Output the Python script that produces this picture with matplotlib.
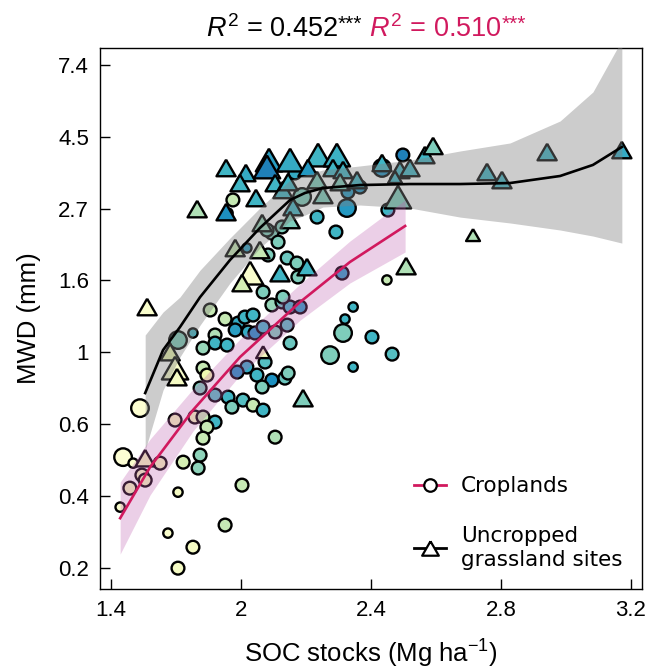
import numpy as np
import matplotlib
matplotlib.use("Agg")
import matplotlib.pyplot as plt
from matplotlib.lines import Line2D
from matplotlib.markers import MarkerStyle

# Croplands: x = SOC axis value, y = ln(MWD), colour value, size class
crop_x = [1.628, 1.637, 1.668, 1.658, 1.695, 1.705, 1.751, 1.689, 1.775, 1.806,
          1.852, 1.806, 1.822, 1.874, 1.868, 1.797, 1.858, 1.883, 1.920, 1.895,
          1.883, 2.003, 1.951, 2.105, 1.806, 1.852, 1.905, 1.951, 1.883, 1.920,
          1.920, 1.957, 1.991, 2.012, 2.037, 1.982, 2.022, 2.043, 2.068, 2.105,
          2.095, 2.126, 2.151, 2.182, 2.142, 2.151, 2.018, 1.988, 2.049, 2.074,
          2.095, 2.135, 2.145, 2.065, 1.883, 1.895, 1.874, 1.960, 1.920, 2.006,
          1.972, 2.037, 2.068, 2.274, 2.314, 2.345, 2.320, 2.345, 2.403, 2.465,
          2.311, 2.449, 2.175, 2.129, 2.068, 1.975, 1.960, 2.188, 2.234, 2.326,
          2.292, 2.366, 2.329, 2.434, 2.498, 2.452, 2.166, 2.018, 2.095, 2.114,
          2.083, 2.142, 2.172, 2.126, 2.080]
crop_y = [-1.078, -0.730, -0.772, -0.946, -0.855, -0.890, -0.772, -0.389, -1.259, -1.503,
          -1.357, -0.974, -0.765, -0.716, -0.806, -0.472, -0.451, -0.451, -0.486, -0.521,
          -0.598, -0.925, -1.203, -0.591, 0.085, 0.134, 0.294, 0.231, 0.029, 0.120,
          0.064, 0.050, 0.203, 0.245, 0.259, 0.155, 0.141, 0.134, 0.175, 0.141,
          0.329, 0.350, 0.315, 0.315, 0.189, 0.064, -0.103, -0.138, -0.159, -0.068,
          -0.194, -0.180, -0.145, -0.242, -0.110, -0.159, -0.249, -0.312, -0.298, -0.333,
          -0.382, -0.368, -0.403, -0.020, 0.134, 0.315, 0.231, -0.103, 0.106, -0.013,
          0.551, 0.503, 0.524, 0.384, 0.419, 1.060, 0.969, 1.081, 0.941, 1.004,
          0.837, 1.150, 1.116, 1.283, 1.373, 0.990, 1.248, 0.726, 0.830, 0.767,
          0.677, 0.656, 0.621, 0.872, 0.851]
crop_c = [0.05, 0.02, 0.05, 0.10, 0.08, 0.10, 0.10, 0.03, 0.05, 0.08,
          0.08, 0.08, 0.25, 0.42, 0.42, 0.10, 0.10, 0.30, 0.60, 0.30,
          0.30, 0.30, 0.30, 0.35, 0.45, 0.60, 0.30, 0.30, 0.40, 0.35,
          0.60, 0.60, 0.65, 0.60, 0.60, 0.70, 0.65, 0.75, 0.60, 0.45,
          0.40, 0.50, 0.60, 0.70, 0.55, 0.50, 0.65, 0.75, 0.60, 0.55,
          0.75, 0.50, 0.45, 0.45, 0.30, 0.15, 0.45, 0.60, 0.55, 0.55,
          0.45, 0.30, 0.60, 0.45, 0.45, 0.60, 0.60, 0.60, 0.60, 0.55,
          0.70, 0.30, 0.45, 0.45, 0.45, 0.30, 0.75, 0.45, 0.60, 0.72,
          0.60, 0.75, 0.72, 0.75, 0.80, 0.60, 0.65, 0.70, 0.45, 0.45,
          0.45, 0.50, 0.45, 0.45, 0.45]
crop_w = [1, 3, 1, 2, 2, 2, 2, 3, 1, 2,
          2, 1, 2, 2, 2, 2, 2, 2, 2, 2,
          2, 2, 2, 2, 3, 1, 2, 2, 2, 2,
          2, 2, 2, 2, 2, 2, 2, 2, 2, 2,
          2, 2, 2, 2, 2, 2, 2, 2, 2, 2,
          2, 2, 2, 2, 2, 2, 2, 2, 2, 2,
          2, 2, 2, 3, 3, 1, 1, 1, 2, 2,
          2, 1, 2, 2, 2, 2, 1, 3, 2, 3,
          2, 2, 2, 3, 2, 2, 2, 1, 2, 2,
          2, 2, 2, 2, 2]

# Uncropped grassland sites
grass_x = [1.711, 1.705, 1.782, 1.797, 1.803, 1.865, 1.954, 2.015, 1.997, 2.046,
           1.954, 2.086, 2.080, 2.151, 2.237, 2.295, 2.206, 2.283, 2.314, 2.105,
           2.129, 2.145, 2.234, 2.305, 2.357, 2.160, 2.252, 2.151, 2.065, 1.982,
           2.058, 2.028, 2.003, 2.120, 2.203, 2.068, 2.191, 2.434, 2.489, 2.520,
           2.474, 2.566, 2.591, 2.483, 2.757, 2.803, 2.942, 3.172, 2.714, 2.508]
grass_y = [0.315, -0.737, 0.001, -0.110, -0.173, 0.997, 1.283, 1.248, 1.178, 1.074,
           0.976, 1.338, 1.290, 1.338, 1.373, 1.373, 1.283, 1.283, 1.269, 1.178,
           1.130, 1.185, 1.199, 1.185, 1.199, 1.011, 1.095, 0.921, 0.900, 0.726,
           0.712, 0.551, 0.482, 0.551, 0.593, 0.001, -0.319, 1.318, 1.269, 1.283,
           1.220, 1.373, 1.436, 1.081, 1.255, 1.199, 1.394, 1.408, 0.816, 0.600]
grass_c = [0.05, 0.10, 0.15, 0.05, 0.08, 0.35, 0.60, 0.65, 0.60, 0.60,
           0.75, 0.70, 0.80, 0.65, 0.60, 0.62, 0.72, 0.60, 0.60, 0.60,
           0.60, 0.60, 0.45, 0.45, 0.60, 0.60, 0.45, 0.45, 0.40, 0.30,
           0.30, 0.05, 0.25, 0.60, 0.60, 0.10, 0.45, 0.60, 0.60, 0.60,
           0.60, 0.60, 0.45, 0.45, 0.60, 0.60, 0.60, 0.65, 0.35, 0.35]
grass_w = [2, 2, 2, 3, 2, 2, 2, 2, 2, 2,
           2, 3, 3, 3, 3, 3, 2, 2, 2, 2,
           2, 2, 2, 2, 2, 2, 2, 2, 2, 2,
           2, 3, 2, 2, 2, 1, 2, 2, 2, 2,
           1, 2, 2, 3, 2, 2, 2, 2, 1, 2]

# fitted curves (ln MWD) with confidence band
crop_fit_x = [1.628, 1.720, 1.852, 1.997, 2.182, 2.335, 2.505]
crop_fit_y = [-1.155, -0.800, -0.403, -0.033, 0.350, 0.628, 0.879]
crop_fit_lo = [-1.405, -0.994, -0.549, -0.159, 0.224, 0.482, 0.698]
crop_fit_hi = [-0.904, -0.605, -0.256, 0.092, 0.475, 0.774, 1.060]

grass_fit_x = [1.705, 1.760, 1.812, 1.874, 1.966, 2.058, 2.151, 2.197, 2.252,
               2.366, 2.520, 2.674, 2.828, 2.982, 3.083, 3.172]
grass_fit_y = [-0.284, 0.015, 0.175, 0.384, 0.642, 0.865, 1.060, 1.109, 1.143,
               1.164, 1.171, 1.171, 1.178, 1.227, 1.304, 1.429]
grass_fit_lo = [-0.681, -0.263, -0.033, 0.189, 0.482, 0.726, 0.914, 0.955, 1.011,
                1.025, 1.004, 0.941, 0.900, 0.851, 0.809, 0.760]
grass_fit_hi = [0.120, 0.280, 0.384, 0.572, 0.795, 1.004, 1.199, 1.234, 1.269,
                1.297, 1.338, 1.401, 1.457, 1.610, 1.812, 2.174]

x_ticks = [1.6, 2.0, 2.4, 2.8, 3.2]
x_tick_labels = ["1.4", "2", "2.4", "2.8", "3.2"]
y_ticks = [-1.5, -1.0, -0.5, 0.0, 0.5, 1.0, 1.5, 2.0]
y_tick_labels = ["0.2", "0.4", "0.6", "1", "1.6", "2.7", "4.5", "7.4"]

PINK = "#d1195e"

plt.rcParams["font.family"] = ["Liberation Sans", "DejaVu Sans"]
plt.rcParams["mathtext.fontset"] = "custom"
plt.rcParams["mathtext.rm"] = "Liberation Sans"
plt.rcParams["mathtext.it"] = "Liberation Sans:italic"

fig = plt.figure(figsize=(6.46, 6.70), dpi=100)
ax = fig.add_axes([100 / 646, 81 / 670, 542 / 646, 541 / 670])

cmap = plt.get_cmap("YlGnBu")
circle_area = {1: 45, 2: 85, 3: 160}
tri_area = {1: 100, 2: 190, 3: 360}

# equilateral triangle marker (closed path)
tri = MarkerStyle([(0, 0.433), (-0.5, -0.433), (0.5, -0.433), (0, 0.433)])

ax.scatter(crop_x, crop_y, c=crop_c, cmap=cmap, vmin=0, vmax=1.2,
           s=[circle_area[w] for w in crop_w], marker="o",
           edgecolors="black", linewidths=1.7, zorder=2)
ax.scatter(grass_x, grass_y, c=grass_c, cmap=cmap, vmin=0, vmax=1.2,
           s=[tri_area[w] for w in grass_w], marker=tri,
           edgecolors="black", linewidths=1.7, zorder=2)

# bands sit on top of the points
ax.fill_between(grass_fit_x, grass_fit_lo, grass_fit_hi, color="#808080",
                alpha=0.4, linewidth=0, zorder=3)
ax.fill_between(crop_fit_x, crop_fit_lo, crop_fit_hi, color="#c060b0",
                alpha=0.3, linewidth=0, zorder=3)
ax.plot(grass_fit_x, grass_fit_y, color="black", lw=1.9, zorder=4)
ax.plot(crop_fit_x, crop_fit_y, color=PINK, lw=1.9, zorder=4)

ax.set_xlim(1.566, 3.234)
ax.set_ylim(-1.648, 2.118)
ax.set_xticks(x_ticks)
ax.set_xticklabels(x_tick_labels)
ax.set_yticks(y_ticks)
ax.set_yticklabels(y_tick_labels)
ax.tick_params(direction="in", length=7, width=1, labelsize=16, pad=8)
for sp in ax.spines.values():
    sp.set_linewidth(1)

ax.set_xlabel("SOC stocks (Mg ha$^{-1}$)", fontsize=18.5, labelpad=12)
ax.set_ylabel("MWD (mm)", fontsize=18.5, labelpad=12)

# two-colour title, built piece by piece
title_parts = [(r"$R^2$ = 0.452", "black", 19.5, 0),
               ("***", "black", 15, 7),
               (r" $R^2$ = 0.510", PINK, 19.5, 0),
               ("***", PINK, 15, 7)]
renderer = fig.canvas.get_renderer()
texts = []
widths = []
for txt, col, size, rise in title_parts:
    t = fig.text(0, 0, txt, color=col, fontsize=size, ha="left", va="baseline")
    texts.append((t, rise))
    widths.append(t.get_window_extent(renderer=renderer).width)
x_px = 366 - sum(widths) / 2
for (t, rise), w in zip(texts, widths):
    t.set_position((x_px / 646, 1 - (37 - rise) / 670))
    x_px += w

handles = [
    Line2D([], [], color=PINK, lw=2, marker="o", markersize=9,
           markerfacecolor="white", markeredgecolor="black", markeredgewidth=1.6),
    Line2D([], [], color="black", lw=2, marker=tri, markersize=12,
           markerfacecolor="white", markeredgecolor="black", markeredgewidth=1.6),
]
leg = ax.legend(handles, ["Croplands", "Uncropped\ngrassland sites"],
                loc="lower right", frameon=False, handlelength=1.5,
                handletextpad=0.7, prop={"family": "DejaVu Sans", "size": 15.5},
                bbox_to_anchor=(1.0, 0.0), labelspacing=1.4)

fig.savefig("out.png", dpi=100)
